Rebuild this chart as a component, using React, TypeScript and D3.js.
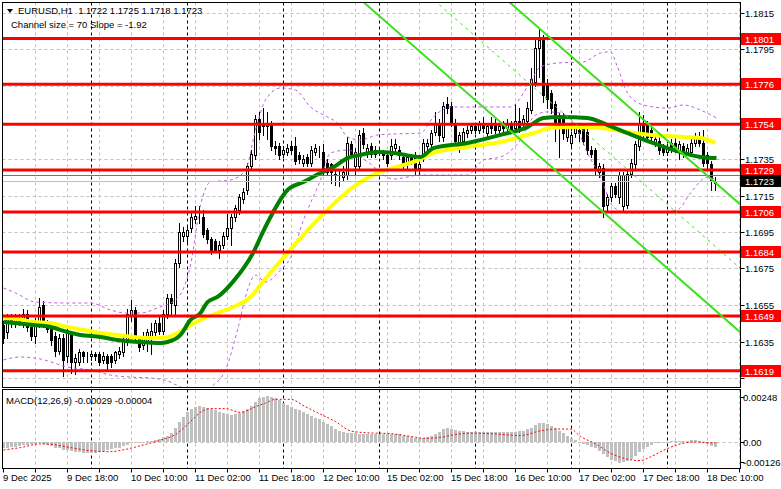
import React from 'react';
import * as d3 from 'd3';

const W = 781;
const H = 489;

// [open, high, low, close] per H1 bar, first bar = 9 Dec 02:00
const ohlc: [number, number, number, number][] = [
  [1.1644,1.1646,1.1634,1.1637],[1.1640,1.1650,1.1637,1.1648],[1.1648,1.1650,1.1643,1.1645],[1.1645,1.1650,1.1643,1.1648],
  [1.1648,1.1650,1.1644,1.1646],[1.1645,1.1653,1.1643,1.1650],[1.1650,1.1652,1.1641,1.1643],[1.1643,1.1645,1.1636,1.1638],
  [1.1638,1.1648,1.1634,1.1646],[1.1645,1.1659,1.1643,1.1654],[1.1655,1.1657,1.1643,1.1645],[1.1645,1.1647,1.1640,1.1642],
  [1.1642,1.1644,1.1633,1.1636],[1.1638,1.1640,1.1627,1.1630],[1.1630,1.1639,1.1628,1.1637],[1.1637,1.1639,1.1616,1.1625],
  [1.1627,1.1642,1.1624,1.1640],[1.1640,1.1641,1.1618,1.1624],[1.1624,1.1628,1.1617,1.1626],[1.1624,1.1631,1.1622,1.1629],
  [1.1629,1.1630,1.1624,1.1627],[1.1627,1.1629,1.1624,1.1627],[1.1627,1.1630,1.1625,1.1628],[1.1628,1.1629,1.1625,1.1627],
  [1.1628,1.1629,1.1622,1.1624],[1.1625,1.1629,1.1623,1.1627],[1.1627,1.1628,1.1620,1.1623],[1.1627,1.1628,1.1621,1.1624],
  [1.1625,1.1630,1.1623,1.1629],[1.1628,1.1632,1.1626,1.1630],[1.1629,1.1638,1.1627,1.1636],[1.1635,1.1653,1.1633,1.1650],
  [1.1649,1.1658,1.1646,1.1652],[1.1652,1.1654,1.1635,1.1637],[1.1637,1.1638,1.1630,1.1632],[1.1633,1.1640,1.1631,1.1638],
  [1.1634,1.1642,1.1630,1.1640],[1.1637,1.1645,1.1628,1.1641],[1.1640,1.1647,1.1638,1.1645],[1.1645,1.1649,1.1639,1.1641],
  [1.1641,1.1652,1.1639,1.1650],[1.1650,1.1661,1.1648,1.1659],[1.1659,1.1661,1.1650,1.1656],[1.1655,1.1680,1.1649,1.1678],
  [1.1678,1.1700,1.1676,1.1695],[1.1693,1.1698,1.1690,1.1695],[1.1693,1.1698,1.1689,1.1696],[1.1697,1.1706,1.1695,1.1703],
  [1.1702,1.1709,1.1700,1.1704],[1.1703,1.1709,1.1700,1.1703],[1.1703,1.1707,1.1692,1.1694],[1.1696,1.1697,1.1689,1.1691],
  [1.1691,1.1692,1.1683,1.1685],[1.1690,1.1691,1.1684,1.1685],[1.1685,1.1690,1.1681,1.1688],[1.1688,1.1695,1.1686,1.1693],
  [1.1693,1.1705,1.1691,1.1697],[1.1697,1.1705,1.1688,1.1703],[1.1703,1.1710,1.1701,1.1708],[1.1707,1.1716,1.1705,1.1714],
  [1.1713,1.1719,1.1711,1.1717],[1.1718,1.1733,1.1716,1.1731],[1.1731,1.1740,1.1729,1.1738],[1.1737,1.1759,1.1735,1.1757],
  [1.1757,1.1761,1.1746,1.1750],[1.1755,1.1763,1.1748,1.1753],[1.1753,1.1761,1.1746,1.1755],[1.1754,1.1756,1.1740,1.1742],
  [1.1742,1.1745,1.1738,1.1741],[1.1742,1.1744,1.1735,1.1737],[1.1738,1.1742,1.1736,1.1740],[1.1739,1.1743,1.1737,1.1741],
  [1.1742,1.1745,1.1738,1.1740],[1.1742,1.1747,1.1732,1.1734],[1.1737,1.1739,1.1733,1.1735],[1.1733,1.1737,1.1731,1.1735],
  [1.1736,1.1738,1.1731,1.1733],[1.1733,1.1742,1.1731,1.1740],[1.1739,1.1743,1.1737,1.1741],[1.1739,1.1742,1.1736,1.1739],
  [1.1739,1.1743,1.1727,1.1729],[1.1733,1.1735,1.1726,1.1728],[1.1732,1.1733,1.1722,1.1728],[1.1726,1.1729,1.1721,1.1727],
  [1.1726,1.1729,1.1720,1.1726],[1.1725,1.1731,1.1723,1.1728],[1.1726,1.1747,1.1724,1.1744],[1.1743,1.1745,1.1736,1.1738],
  [1.1731,1.1741,1.1726,1.1739],[1.1731,1.1751,1.1729,1.1748],[1.1749,1.1752,1.1741,1.1743],[1.1738,1.1743,1.1736,1.1741],
  [1.1742,1.1744,1.1736,1.1738],[1.1738,1.1742,1.1736,1.1740],[1.1739,1.1741,1.1737,1.1739],[1.1739,1.1740,1.1735,1.1737],
  [1.1737,1.1738,1.1731,1.1733],[1.1737,1.1746,1.1735,1.1742],[1.1741,1.1746,1.1739,1.1743],[1.1740,1.1742,1.1735,1.1737],
  [1.1736,1.1738,1.1729,1.1731],[1.1732,1.1738,1.1730,1.1736],[1.1736,1.1738,1.1732,1.1734],[1.1737,1.1739,1.1726,1.1729],
  [1.1730,1.1734,1.1726,1.1732],[1.1736,1.1746,1.1734,1.1744],[1.1742,1.1746,1.1740,1.1744],[1.1743,1.1751,1.1741,1.1749],
  [1.1750,1.1761,1.1748,1.1755],[1.1755,1.1757,1.1745,1.1748],[1.1747,1.1766,1.1745,1.1764],[1.1765,1.1769,1.1760,1.1763],
  [1.1764,1.1766,1.1753,1.1755],[1.1755,1.1757,1.1743,1.1745],[1.1744,1.1750,1.1739,1.1748],[1.1745,1.1752,1.1743,1.1750],
  [1.1749,1.1753,1.1747,1.1751],[1.1751,1.1755,1.1749,1.1753],[1.1753,1.1755,1.1749,1.1751],[1.1751,1.1756,1.1749,1.1754],
  [1.1755,1.1758,1.1750,1.1752],[1.1749,1.1755,1.1747,1.1753],[1.1755,1.1758,1.1749,1.1752],[1.1755,1.1757,1.1749,1.1751],
  [1.1751,1.1755,1.1749,1.1753],[1.1754,1.1756,1.1750,1.1752],[1.1752,1.1757,1.1750,1.1755],[1.1754,1.1756,1.1749,1.1751],
  [1.1752,1.1765,1.1750,1.1756],[1.1756,1.1763,1.1750,1.1752],[1.1754,1.1759,1.1752,1.1757],[1.1756,1.1766,1.1754,1.1763],
  [1.1762,1.1785,1.1760,1.1779],[1.1777,1.1800,1.1775,1.1796],[1.1796,1.1806,1.1780,1.1800],[1.1800,1.1803,1.1766,1.1770],
  [1.1776,1.1779,1.1763,1.1768],[1.1771,1.1773,1.1760,1.1763],[1.1765,1.1767,1.1745,1.1755],[1.1759,1.1760,1.1736,1.1752],
  [1.1758,1.1760,1.1746,1.1749],[1.1747,1.1754,1.1745,1.1752],[1.1744,1.1750,1.1742,1.1748],[1.1749,1.1754,1.1747,1.1752],
  [1.1751,1.1753,1.1745,1.1749],[1.1752,1.1754,1.1743,1.1745],[1.1750,1.1752,1.1738,1.1740],[1.1740,1.1742,1.1736,1.1738],
  [1.1740,1.1741,1.1727,1.1729],[1.1728,1.1733,1.1725,1.1731],[1.1730,1.1732,1.1703,1.1709],[1.1710,1.1716,1.1706,1.1714],
  [1.1714,1.1722,1.1712,1.1720],[1.1720,1.1722,1.1714,1.1716],[1.1714,1.1728,1.1711,1.1726],[1.1709,1.1728,1.1707,1.1726],
  [1.1710,1.1729,1.1708,1.1727],[1.1727,1.1735,1.1725,1.1733],[1.1732,1.1745,1.1730,1.1743],[1.1742,1.1761,1.1740,1.1754],
  [1.1755,1.1759,1.1746,1.1748],[1.1754,1.1756,1.1745,1.1747],[1.1751,1.1753,1.1745,1.1747],[1.1744,1.1748,1.1742,1.1746],
  [1.1745,1.1747,1.1738,1.1740],[1.1741,1.1743,1.1737,1.1739],[1.1739,1.1743,1.1737,1.1741],[1.1744,1.1746,1.1739,1.1741],
  [1.1744,1.1747,1.1739,1.1741],[1.1740,1.1745,1.1735,1.1743],[1.1742,1.1744,1.1736,1.1738],[1.1739,1.1743,1.1737,1.1741],
  [1.1739,1.1746,1.1737,1.1744],[1.1744,1.1749,1.1742,1.1747],[1.1747,1.1750,1.1742,1.1744],[1.1744,1.1751,1.1731,1.1733],
  [1.1737,1.1739,1.1730,1.1733],[1.1732,1.1734,1.1718,1.1723],[1.1722,1.1725,1.1718,1.1723],
];

// MACD main (histogram) per bar
const macdHist: number[] = [
  -0.00032,-0.00030,-0.00028,-0.00025,-0.00022,-0.00018,-0.00015,-0.00013,-0.00012,
  -0.00008,-0.00010,-0.00015,
  -0.00022,-0.00030,-0.00035,-0.00042,-0.00045,-0.00050,-0.00055,-0.00056,-0.00058,
  -0.00060,-0.00060,-0.00058,-0.00055,-0.00050,-0.00045,-0.00040,-0.00035,-0.00030,
  -0.00022,-0.00015,-0.00008,-0.00005,-0.00003,0.00000,0.00003,
  0.00008,0.00012,0.00018,0.00025,0.00035,0.00050,0.00075,
  0.00110,0.00135,0.00160,0.00180,0.00188,0.00192,0.00190,
  0.00185,0.00178,0.00170,0.00162,0.00155,0.00150,0.00148,0.00150,
  0.00155,0.00165,0.00180,0.00195,0.00215,0.00235,0.00245,0.00250,
  0.00245,0.00238,0.00225,0.00212,0.00200,0.00190,0.00180,0.00170,
  0.00160,0.00150,0.00140,0.00130,0.00122,0.00110,0.00098,0.00085,
  0.00070,0.00060,0.00055,0.00050,0.00048,0.00046,0.00045,0.00045,
  0.00045,0.00044,0.00044,0.00043,0.00042,0.00042,0.00043,0.00044,0.00042,
  0.00035,0.00030,0.00027,0.00022,0.00020,0.00022,0.00028,0.00035,
  0.00045,0.00055,0.00068,0.00075,0.00072,0.00065,0.00060,0.00058,
  0.00056,0.00055,0.00055,0.00054,0.00055,0.00053,0.00054,0.00055,0.00054,0.00053,0.00055,0.00054,0.00056,0.00058,
  0.00062,0.00068,0.00078,0.00092,0.00102,0.00100,0.00095,0.00088,0.00075,0.00060,
  0.00048,0.00035,0.00022,0.00010,-0.00002,-0.00010,-0.00018,-0.00025,-0.00035,-0.00048,
  -0.00065,-0.00080,-0.00095,-0.00105,-0.00112,-0.00110,-0.00102,-0.00090,-0.00075,-0.00055,
  -0.00038,-0.00025,-0.00015,-0.00008,-0.00003,0.00000,0.00002,0.00003,0.00005,0.00006,
  0.00007,0.00008,0.00009,0.00010,0.00008,0.00000,-0.00010,-0.00022,-0.00029,
];

// MACD signal line, read as [bar, value]
const macdSignal: [number, number][] = [
  [0,-0.00043],[4.25,-0.00030],[9.25,-0.00010],[11.75,-0.00012],[16.75,-0.00030],[21.75,-0.00047],
  [26.75,-0.00052],[30.5,-0.00040],[34.25,-0.00020],[39.25,0.00010],[43,0.00040],[46.75,0.00110],
  [49.25,0.00160],[51.75,0.00180],[55.5,0.00180],[59.25,0.00160],[63,0.00190],[65.5,0.00210],
  [68,0.00230],[71.75,0.00230],[75.5,0.00190],[79.25,0.00150],[83,0.00110],[86.75,0.00060],
  [90.5,0.00050],[96.75,0.00045],[101.75,0.00030],[105.5,0.00020],[109.25,0.00025],[113,0.00040],
  [116.75,0.00048],[121.75,0.00045],[129.25,0.00035],[134.25,0.00060],[138,0.00070],[141.75,0.00070],
  [144.25,0.00030],[148,-0.00010],[151.75,-0.00060],[155.5,-0.00090],[159.25,-0.00100],[161.75,-0.00080],
  [165.5,-0.00040],[169.25,-0.00010],[173,0.00000],[176.75,-0.00004],[178,-0.00004],
];

// Moving averages read as [bar, price]
const greenMA: [number, number][] = [
  [0,1.16457],[7.5,1.16440],[11.75,1.16429],[16,1.16402],[19.25,1.16386],[24.25,1.16375],[28.5,1.16358],
  [34.25,1.16347],[39.25,1.16342],[41,1.16347],[44.25,1.16386],[46.75,1.16468],[49.25,1.16506],[51,1.16566],
  [53.5,1.16594],[57.5,1.16681],[62.5,1.16840],[64.75,1.16945],[66.75,1.17032],[71,1.17180],[75,1.17224],
  [79.25,1.17273],[82.5,1.17306],[86,1.17355],[89.25,1.17372],[93.5,1.17388],[97.5,1.17383],[104.25,1.17361],
  [107.5,1.17410],[116,1.17438],[124.25,1.17482],[131,1.17525],[135,1.17575],[139.25,1.17580],[146,1.17575],
  [151,1.17536],[156,1.17492],[161.75,1.17443],[166,1.17410],[170,1.17383],[174.25,1.17361],[178.25,1.17355],
];
const yellowMA: [number, number][] = [
  [0,1.16479],[3.5,1.16473],[7.5,1.16457],[11.75,1.16451],[16,1.16430],[20,1.16413],[24.25,1.16397],
  [28.5,1.16386],[32.5,1.16375],[36.75,1.16369],[40,1.16369],[43.5,1.16397],[46.75,1.16440],[49.25,1.16468],
  [53.5,1.16506],[57.5,1.16539],[61.75,1.16594],[65,1.16681],[71,1.16835],[76.75,1.16977],[81,1.17071],
  [85,1.17153],[89.25,1.17224],[93.5,1.17273],[97.5,1.17301],[102.5,1.17334],[107.5,1.17383],[116,1.17416],
  [124.25,1.17443],[132.5,1.17492],[136.75,1.17520],[142.5,1.17525],[149.25,1.17520],[156,1.17498],
  [161.75,1.17482],[170,1.17471],[174.25,1.17465],[178,1.17438],
];
const upperBand: [number, number][] = [
  [0,1.16643],[3,1.16616],[8,1.16566],[16,1.16561],[21.75,1.16561],[26.75,1.16523],[30.5,1.16506],
  [34.25,1.16506],[38.5,1.16534],[43.5,1.16588],[46.75,1.16769],[49.25,1.17098],[51.75,1.17224],
  [56.75,1.17235],[60.5,1.17290],[63,1.17509],[65.5,1.17673],[69.25,1.17739],[73,1.17728],[76.75,1.17635],
  [81,1.17580],[83.5,1.17547],[86,1.17471],[89.25,1.17454],[93.5,1.17482],[97.5,1.17487],[104.25,1.17492],
  [107.5,1.17580],[111.75,1.17635],[120,1.17635],[126.75,1.17635],[131,1.17745],[134.25,1.17854],
  [138.5,1.17876],[145,1.17882],[149.25,1.17931],[151.75,1.17937],[153.5,1.17854],[156,1.17712],
  [160,1.17646],[166,1.17629],[170,1.17646],[174.25,1.17618],[178.25,1.17575],
];
const lowerBand: [number, number][] = [
  [0,1.16249],[4.25,1.16265],[9.25,1.16254],[16,1.16210],[21.75,1.16194],[26.75,1.16166],[31.75,1.16155],
  [36.75,1.16150],[41,1.16134],[44.25,1.16101],[49.25,1.16073],[52.5,1.16112],[55.5,1.16194],[58.5,1.16413],
  [61,1.16632],[63,1.16714],[65.5,1.16676],[69.25,1.16742],[71.75,1.16808],[75,1.17016],[79.25,1.17235],
  [81.75,1.17383],[86,1.17399],[91,1.17334],[97.5,1.17240],[104.25,1.17262],[116,1.17262],[120,1.17345],
  [124.25,1.17361],[129.25,1.17454],[133,1.17591],[136,1.17608],[139.25,1.17602],[143.5,1.17509],
  [146,1.17383],[149.25,1.17251],[152.5,1.17087],[156,1.17054],[164.25,1.17060],[168.5,1.17071],
  [171.75,1.17164],[176,1.17251],[178.25,1.17235],
];

const levels = [1.1801, 1.1776, 1.1754, 1.1729, 1.1706, 1.1684, 1.1649, 1.1619];
const priceTicks = [1.1815, 1.1795, 1.1775, 1.1755, 1.1735, 1.1715, 1.1695, 1.1675, 1.1655, 1.1635, 1.1615];
const bidPrice = 1.1723;
const extraLine = 1.1726;
const macdTicks = [0.00248, 0, -0.00126];
const macdTickText = ['0.00248', '0.00', '-0.00126'];
const timeLabels = ['9 Dec 2025', '9 Dec 18:00', '10 Dec 10:00', '11 Dec 02:00', '11 Dec 18:00', '12 Dec 10:00',
  '15 Dec 02:00', '15 Dec 18:00', '16 Dec 10:00', '17 Dec 02:00', '17 Dec 18:00', '18 Dec 10:00'];
const daySeparators = [22, 46, 70, 94, 118, 142, 166];

// regression channel: "Channel size = 70 Slope = -1.92"
const channelEndBar = 178;
const channelMidAtEnd = 1.1687;
const channelSlope = -0.000192;
const channelHalf = 0.0035;

const FONT = "'Liberation Sans', Arial, sans-serif";
const FS = 9.5;

export default function App() {
  const L = 2.5, R = 740.5, T = 2.5, B = 387.5;
  const MT = 389.5, MB = 468.5;

  const x = d3.scaleLinear().domain([0, 1]).range([3, 7]);
  const y = d3.scaleLinear().domain([1.1615, 1.1815]).range([378, 13]);
  const ym = d3.scaleLinear().domain([0, 0.00248]).range([442, 396]);
  const py = (p: number) => Math.round(y(p));

  const priceLine = d3.line<[number, number]>().x(d => x(d[0]) + 0.5).y(d => y(d[1])).curve(d3.curveMonotoneX);
  const sigLine = d3.line<[number, number]>().x(d => x(d[0]) + 0.5).y(d => ym(d[1])).curve(d3.curveMonotoneX);

  const nBars = ohlc.length;
  const gridBars = d3.range(8, 186, 8);
  const labelBars = timeLabels.map((_, i) => i * 16);

  const chanPts = (off: number): [number, number][] => [80, 186].map(b => [b, channelMidAtEnd + channelSlope * (b - channelEndBar) + off]);
  const straight = d3.line<[number, number]>().x(d => x(d[0]) + 0.5).y(d => y(d[1]));

  const boxed = [...levels, bidPrice];
  const visibleTicks = priceTicks.filter(p => boxed.every(b => Math.abs(y(b) - y(p)) > 9));

  const labelBox = (p: number, fill: string, txt: string, key: string) => {
    const cy = Math.round(y(p));
    return (
      <g key={key}>
        <rect x={741} y={cy - 6} width={40} height={12} fill={fill} />
        <text x={745} y={cy + 4} fill="#fff" fontSize={FS} fontFamily={FONT}>{txt}</text>
      </g>
    );
  };

  return (
    <svg width={W} height={H} style={{ position: 'absolute', left: 0, top: 0, background: '#fff' }}>
      <defs>
        <clipPath id="mainClip"><rect x={L} y={T} width={R - L} height={B - T} /></clipPath>
        <clipPath id="macdClip"><rect x={L} y={MT} width={R - L} height={MB - MT} /></clipPath>
      </defs>
      <rect x={0} y={0} width={W} height={H} fill="#fff" />

      {/* grid main */}
      <g clipPath="url(#mainClip)">
        {priceTicks.map(p => (
          <line key={'hg' + p} x1={L} x2={R} y1={py(p) + 0.5} y2={py(p) + 0.5} stroke="#c0c0c0" strokeDasharray="3,3" />
        ))}
        {gridBars.map(b => (
          <line key={'vg' + b} x1={x(b) + 0.5} x2={x(b) + 0.5} y1={T} y2={B} stroke="#c0c0c0" strokeDasharray="3,3" />
        ))}
        {daySeparators.map(b => (
          <line key={'ds' + b} x1={x(b) + 0.5} x2={x(b) + 0.5} y1={T} y2={B} stroke="#000" strokeDasharray="3,3" />
        ))}
      </g>
      {/* grid macd */}
      <g clipPath="url(#macdClip)">
        {gridBars.map(b => (
          <line key={'mvg' + b} x1={x(b) + 0.5} x2={x(b) + 0.5} y1={MT} y2={MB} stroke="#c0c0c0" strokeDasharray="3,3" />
        ))}
        {daySeparators.map(b => (
          <line key={'mds' + b} x1={x(b) + 0.5} x2={x(b) + 0.5} y1={MT} y2={MB} stroke="#000" strokeDasharray="3,3" />
        ))}
      </g>

      {/* candles */}
      <g clipPath="url(#mainClip)">
        {ohlc.map((c, i) => {
          const [o, h, l, cl] = c;
          const cx = x(i);
          const yo = py(o), yc = py(cl), yh = py(h), yl = py(l);
          const top = Math.min(yo, yc), bot = Math.max(yo, yc);
          const bull = cl >= o;
          return (
            <g key={'c' + i}>
              <line x1={cx + 0.5} x2={cx + 0.5} y1={yh} y2={yl + 1} stroke="#000" />
              {bull ? (
                <rect x={cx - 0.5} y={top + 0.5} width={2} height={Math.max(bot - top, 0)} fill="#fff" stroke="#000" />
              ) : (
                <rect x={cx - 1} y={top} width={3} height={Math.max(bot - top + 1, 1)} fill="#000" />
              )}
            </g>
          );
        })}
      </g>

      {/* indicators */}
      <g clipPath="url(#mainClip)">
        <path d={priceLine(upperBand) || ''} fill="none" stroke="#c05ce0" strokeDasharray="3,3" />
        <path d={priceLine(lowerBand) || ''} fill="none" stroke="#c05ce0" strokeDasharray="3,3" />
        <path d={priceLine(yellowMA) || ''} fill="none" stroke="#ffff00" strokeWidth={4} />
        <path d={priceLine(greenMA) || ''} fill="none" stroke="#008000" strokeWidth={4} />
        {levels.map(p => (
          <line key={'lv' + p} x1={L} x2={R} y1={y(p)} y2={y(p)} stroke="#ff0000" strokeWidth={3} />
        ))}
        <line x1={L} x2={R} y1={py(extraLine) + 0.5} y2={py(extraLine) + 0.5} stroke="#ff4500" strokeWidth={1} />
        <line x1={L} x2={R} y1={py(bidPrice) + 0.5} y2={py(bidPrice) + 0.5} stroke="#c0c0c0" strokeWidth={1} />
        <path d={straight(chanPts(channelHalf)) || ''} fill="none" stroke="#3ce01e" strokeWidth={2} />
        <path d={straight(chanPts(-channelHalf)) || ''} fill="none" stroke="#3ce01e" strokeWidth={2} />
        <path d={straight(chanPts(0)) || ''} fill="none" stroke="#3ce01e" strokeWidth={1} strokeDasharray="3,4" />
      </g>

      {/* macd */}
      <g clipPath="url(#macdClip)">
        <line x1={L} x2={R} y1={Math.round(ym(0)) + 0.5} y2={Math.round(ym(0)) + 0.5} stroke="#c0c0c0" strokeDasharray="3,3" />
        {macdHist.slice(0, nBars).map((v, i) => {
          const y0 = Math.round(ym(0));
          const yv = Math.round(ym(v));
          return <rect key={'h' + i} x={x(i) - 1} y={Math.min(y0, yv)} width={3} height={Math.max(Math.abs(yv - y0), 1)} fill="#c0c0c0" />;
        })}
        <path d={sigLine(macdSignal) || ''} fill="none" stroke="#ff0000" strokeWidth={1} strokeDasharray="2,2" />
      </g>

      {/* frames */}
      <rect x={L} y={T} width={R - L} height={B - T} fill="none" stroke="#000" />
      <rect x={L} y={MT} width={R - L} height={MB - MT} fill="none" stroke="#000" />

      {/* right axis */}
      {priceTicks.map(p => (
        <line key={'ptk' + p} x1={R} x2={R + 4} y1={py(p) + 0.5} y2={py(p) + 0.5} stroke="#000" />
      ))}
      {visibleTicks.map(p => (
        <text key={'pt' + p} x={745} y={py(p) + 4} fontSize={FS} fontFamily={FONT} fill="#000">{p.toFixed(4)}</text>
      ))}
      <rect x={741} y={Math.round(y(extraLine)) - 1} width={40} height={2} fill="#ff4500" />
      {levels.map(p => labelBox(p, '#ff0000', p.toFixed(4), 'lb' + p))}
      {labelBox(bidPrice, '#000000', bidPrice.toFixed(4), 'bid')}

      {macdTicks.map((v, i) => {
        const cy = Math.min(Math.max(ym(v), MT + 7), MB - 7);
        return (
          <g key={'mt' + i}>
            <line x1={R} x2={R + 4} y1={Math.round(cy) + 0.5} y2={Math.round(cy) + 0.5} stroke="#000" />
            <text x={743} y={Math.round(cy) + 4} fontSize={FS} fontFamily={FONT} fill="#000">{macdTickText[i]}</text>
          </g>
        );
      })}

      {/* bottom axis */}
      {[0, ...gridBars].map(b => (
        <line key={'bt' + b} x1={x(b) + 0.5} x2={x(b) + 0.5} y1={MB} y2={MB + 4} stroke="#000" />
      ))}
      {labelBars.map((b, i) => (
        <text key={'tl' + i} x={x(b)} y={481} fontSize={FS} fontFamily={FONT} fill="#000">{timeLabels[i]}</text>
      ))}

      {/* headers */}
      <path d="M7,9 L13,9 L10,13 Z" fill="#000" />
      <text x={18} y={14} fontSize={FS} fontFamily={FONT} fill="#000" style={{ whiteSpace: 'pre' }}>{'EURUSD,H1  1.1722 1.1725 1.1718 1.1723'}</text>
      <text x={11} y={28} fontSize={FS} fontFamily={FONT} fill="#000">Channel size = 70 Slope = -1.92</text>
      <text x={6} y={404} fontSize={FS} fontFamily={FONT} fill="#000">MACD(12,26,9) -0.00029 -0.00004</text>
    </svg>
  );
}
